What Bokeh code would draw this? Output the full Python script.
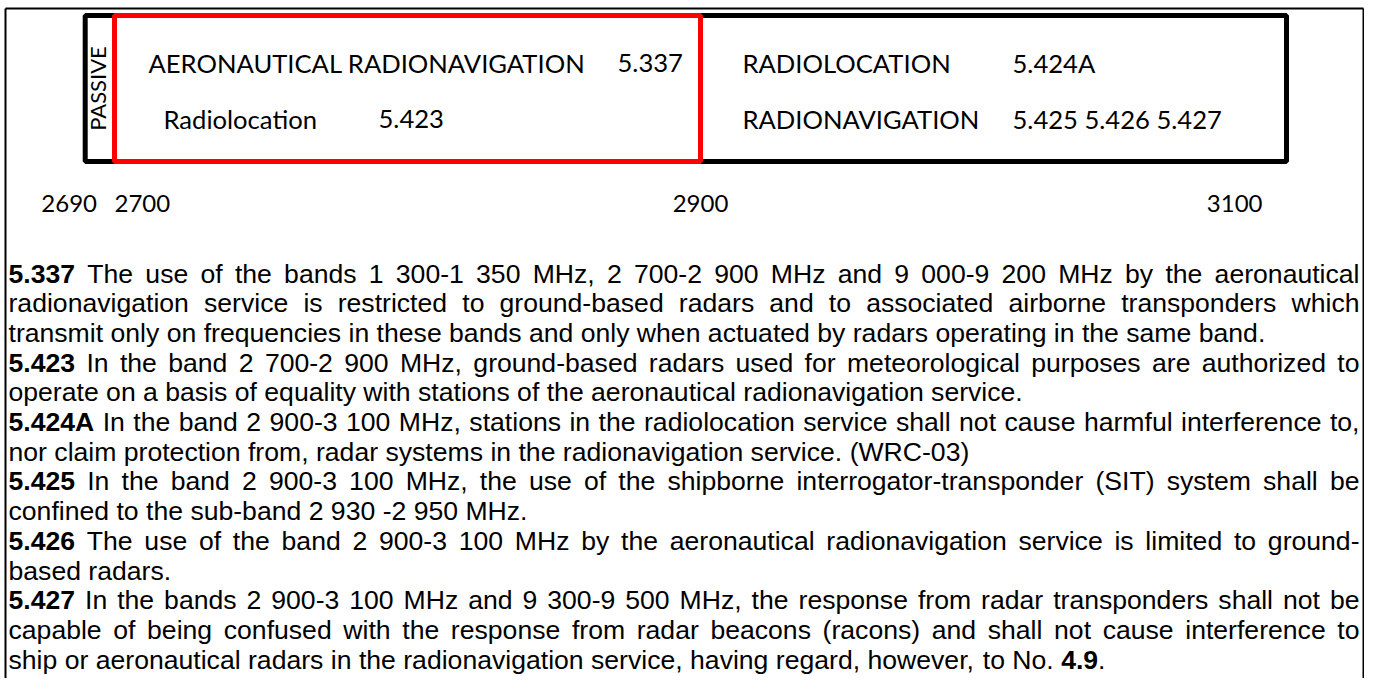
import math
from bokeh.plotting import figure
from bokeh.models import Range1d
from bokeh.core.properties import value
from bokeh.embed import file_html
from bokeh.resources import INLINE

# ---------------- data ----------------
band_labels = ["PASSIVE", "AERONAUTICAL RADIONAVIGATION", "RADIOLOCATION"]
band_start = [2690, 2700, 2900]
band_end = [2700, 2900, 3100]
band_highlight = [False, True, False]

service_text = ["AERONAUTICAL RADIONAVIGATION", "Radiolocation", "RADIOLOCATION", "RADIONAVIGATION"]
service_note = ["5.337", "5.423", "5.424A", "5.425 5.426 5.427"]
service_band = [2700, 2700, 2900, 2900]
service_row = [0, 1, 0, 1]

tick_freqs = [2690, 2700, 2900, 3100]
tick_labels = ["2690", "2700", "2900", "3100"]

footnote_lines = [
    "**5.337** The use of the bands 1 300-1 350 MHz, 2 700-2 900 MHz and 9 000-9 200 MHz by the aeronautical",
    "radionavigation service is restricted to ground-based radars and to associated airborne transponders which",
    "transmit only on frequencies in these bands and only when actuated by radars operating in the same band.",
    "**5.423** In the band 2 700-2 900 MHz, ground-based radars used for meteorological purposes are authorized to",
    "operate on a basis of equality with stations of the aeronautical radionavigation service.",
    "**5.424A** In the band 2 900-3 100 MHz, stations in the radiolocation service shall not cause harmful interference to,",
    "nor claim protection from, radar systems in the radionavigation service. (WRC-03)",
    "**5.425** In the band 2 900-3 100 MHz, the use of the shipborne interrogator-transponder (SIT) system shall be",
    "confined to the sub-band 2 930 -2 950 MHz.",
    "**5.426** The use of the band 2 900-3 100 MHz by the aeronautical radionavigation service is limited to ground-",
    "based radars.",
    "**5.427** In the bands 2 900-3 100 MHz and 9 300-9 500 MHz, the response from radar transponders shall not be",
    "capable of being confused with the response from radar beacons (racons) and shall not cause interference to",
    "ship or aeronautical radars in the radionavigation service, having regard, however, to No. **4.9**.",
]
paragraph_end = [False, False, True, False, True, False, True, False, True, False, True, False, False, True]

# ---------------- layout / style ----------------
W, H = 1364, 678
PX_PER_MHZ = 2.93
F0 = 2700 - 114 / PX_PER_MHZ
BOX_TOP, BOX_BOTTOM = 15, 161
ROW_Y = [62, 118]
TICK_Y = 203
SERVICE_DX = {2700: [34, 49], 2900: [42, 42]}
NOTE_DX = {2700: [503, 264], 2900: [312, 312]}
TICK_ALIGN = ["center", "left", "center", "right"]
TICK_DX = [-16, 0, 0, -24]
BAND_FONT = "Lato"
BAND_SIZE = "25.6px"
TXT_FONT = "Liberation Sans"
TXT_SIZE = 26.6
TXT_LEFT, TXT_RIGHT = 8, 1359
LINE0_Y, LINE_DY = 273, 29.7

REG = dict(zip("abcdefghijklmnopqrstuvwxyz",
               [556, 556, 500, 556, 556, 278, 556, 556, 222, 222, 500, 222, 833, 556, 556, 556, 556, 333, 500, 278,
                556, 500, 722, 500, 500, 500]))
REG.update(dict(zip("ABCDEFGHIJKLMNOPQRSTUVWXYZ",
                    [667, 667, 722, 722, 667, 611, 778, 722, 278, 500, 667, 556, 833, 722, 778, 667, 778, 722, 667,
                     611, 722, 667, 944, 667, 667, 611])))
for d in "0123456789":
    REG[d] = 556
REG.update({" ": 278, ".": 278, ",": 278, "-": 333, "(": 333, ")": 333})
BOLD = dict(REG)
BOLD.update({"A": 722})


def seg_width(s, bold):
    tab = BOLD if bold else REG
    return sum(tab.get(c, 556) for c in s) * TXT_SIZE / 1000.0


p = figure(width=W, height=H, x_range=Range1d(0, W), y_range=Range1d(H, 0),
           output_backend="svg", toolbar_location=None, min_border=0)
p.extra_x_ranges = {"freq": Range1d(F0, F0 + W / PX_PER_MHZ)}
p.axis.visible = False
p.grid.visible = False
p.outline_line_color = None
p.background_fill_color = "white"
p.border_fill_color = "white"

# outer frame (left, top, right)
p.multi_line(xs=[[5, 5], [5, W - 1], [W - 1, W - 1]], ys=[[H, 8], [8, 8], [8, H]],
             line_color="black", line_width=2)

# band boxes: plain ones first, highlighted on top
order = sorted(range(len(band_start)), key=lambda i: band_highlight[i])
p.quad(left=[band_start[i] for i in order], right=[band_end[i] for i in order],
       top=BOX_TOP, bottom=BOX_BOTTOM, x_range_name="freq", fill_color=None,
       line_color=["red" if band_highlight[i] else "black" for i in order], line_width=5)

# PASSIVE label (rotated)
p.text(x=[(band_start[0] + band_end[0]) / 2], y=[(BOX_TOP + BOX_BOTTOM) / 2], text=[band_labels[0]],
       x_range_name="freq", angle=math.pi / 2, text_align="center", text_baseline="middle",
       text_font=value(BAND_FONT), text_font_size="22px", text_color="black", x_offset=-2)

# services and footnote numbers in the boxes
for s, n, b, r in zip(service_text, service_note, service_band, service_row):
    p.text(x=[b], y=[ROW_Y[r]], text=[s], x_range_name="freq", x_offset=SERVICE_DX[b][r],
           text_align="left", text_baseline="middle", text_font=value(BAND_FONT),
           text_font_size=BAND_SIZE, text_color="black")
    p.text(x=[b], y=[ROW_Y[r]], text=[n], x_range_name="freq", x_offset=NOTE_DX[b][r],
           text_align="left", text_baseline="middle", text_font=value(BAND_FONT),
           text_font_size=BAND_SIZE, text_color="black")

# frequency labels
for f, lab, al, dx in zip(tick_freqs, tick_labels, TICK_ALIGN, TICK_DX):
    p.text(x=[f], y=[TICK_Y], text=[lab], x_range_name="freq", x_offset=dx, text_align=al,
           text_baseline="middle", text_font=value(BAND_FONT), text_font_size="24px", text_color="black")

# footnote paragraphs, fully justified word by word
rx, ry, rt, bx, by, bt = [], [], [], [], [], []
for i, (line, last) in enumerate(zip(footnote_lines, paragraph_end)):
    y = LINE0_Y + i * LINE_DY
    words = []
    for w in line.split(" "):
        parts = w.split("**")
        segs = [(t, k % 2 == 1) for k, t in enumerate(parts) if t]
        words.append(segs)
    widths = [sum(seg_width(t, b) for t, b in segs) for segs in words]
    total = sum(widths)
    if last or len(words) < 2:
        gap = seg_width(" ", False)
    else:
        gap = (TXT_RIGHT - TXT_LEFT - total) / (len(words) - 1)
    x = TXT_LEFT
    for segs, wd in zip(words, widths):
        xx = x
        for t, b in segs:
            if b:
                bx.append(xx); by.append(y); bt.append(t)
            else:
                rx.append(xx); ry.append(y); rt.append(t)
            xx += seg_width(t, b)
        x += wd + gap

p.text(x=rx, y=ry, text=rt, text_align="left", text_baseline="middle", text_font=value(TXT_FONT),
       text_font_size=f"{TXT_SIZE}px", text_color="black")
p.text(x=bx, y=by, text=bt, text_align="left", text_baseline="middle", text_font=value(TXT_FONT),
       text_font_size=f"{TXT_SIZE}px", text_font_style="bold", text_color="black")

open("out.html", "w").write(file_html(p, INLINE))
